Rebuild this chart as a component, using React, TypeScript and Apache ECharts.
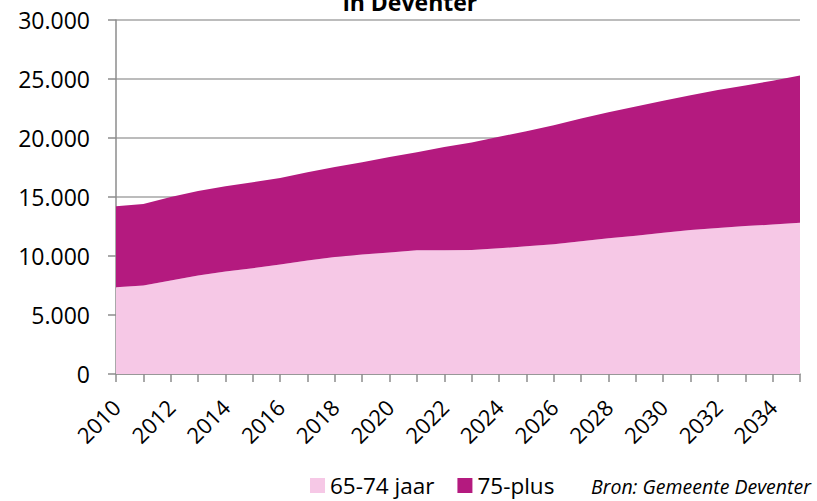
import React, { useEffect, useRef } from "react";
import * as echarts from "echarts";

const years = [
  "2010", "2011", "2012", "2013", "2014", "2015", "2016", "2017", "2018", "2019",
  "2020", "2021", "2022", "2023", "2024", "2025", "2026", "2027", "2028", "2029",
  "2030", "2031", "2032", "2033", "2034", "2035",
];

const age65to74 = [
  7360, 7500, 7930, 8350, 8690, 8970, 9280, 9620, 9910, 10130,
  10290, 10480, 10480, 10500, 10650, 10820, 10990, 11240, 11500, 11720,
  11970, 12200, 12370, 12540, 12660, 12820,
];

const age75plus = [
  6850, 6910, 7070, 7160, 7220, 7280, 7330, 7470, 7640, 7810,
  8110, 8320, 8750, 9120, 9450, 9750, 10100, 10410, 10690, 10950,
  11180, 11430, 11690, 11910, 12190, 12480,
];

const seriesNames = ["65-74 jaar", "75-plus"];
const titleText = "in Deventer";
const sourceText = "Bron: Gemeente Deventer";

const FONT = "'Open Sans', 'Noto Sans', sans-serif";

function fmt(v: number): string {
  return String(v).replace(/\B(?=(\d{3})+(?!\d))/g, ".");
}

export default function App() {
  const ref = useRef<HTMLDivElement>(null);

  useEffect(() => {
    if (!ref.current) return;
    const chart = echarts.init(ref.current, undefined, { renderer: "svg" });
    chart.setOption({
      animation: false,
      backgroundColor: "#ffffff",
      textStyle: { fontFamily: FONT },
      grid: { left: 116, right: 17, top: 20, bottom: 127, containLabel: false },
      legend: {
        data: seriesNames,
        left: 305,
        top: 469,
        icon: "rect",
        itemWidth: 15,
        itemHeight: 15,
        itemGap: 23,
        textStyle: { fontSize: 22.5, color: "#000", fontFamily: FONT, padding: [0, 0, 0, 0] },
      },
      graphic: [
        {
          type: "text",
          x: 410,
          y: 2,
          style: {
            text: titleText,
            font: `bold 23px ${FONT}`,
            fill: "#000",
            textAlign: "center",
            textVerticalAlign: "middle",
          },
        },
        {
          type: "text",
          x: 591,
          y: 486,
          style: {
            text: sourceText,
            font: `italic 19.5px ${FONT}`,
            fill: "#000",
            textAlign: "left",
            textVerticalAlign: "middle",
          },
        },
      ],
      xAxis: {
        type: "category",
        data: years,
        boundaryGap: false,
        axisLine: { lineStyle: { color: "#8c8c8c", width: 1.5 } },
        axisTick: { show: true, interval: 0, length: 8, lineStyle: { color: "#8c8c8c", width: 1.5 } },
        axisLabel: {
          interval: 1,
          rotate: 45,
          margin: 29,
          fontSize: 22,
          color: "#000",
          fontFamily: FONT,
        },
        splitLine: { show: false },
      },
      yAxis: {
        type: "value",
        min: 0,
        max: 30000,
        interval: 5000,
        axisLine: { show: true, lineStyle: { color: "#8c8c8c", width: 1.5 } },
        axisTick: { show: true, length: 8, lineStyle: { color: "#8c8c8c", width: 1.5 } },
        axisLabel: {
          margin: 26,
          fontSize: 23,
          color: "#000",
          fontFamily: FONT,
          formatter: (v: number) => fmt(v),
        },
        splitLine: { show: true, lineStyle: { color: "#a6a6a6", width: 1.5 } },
      },
      series: [
        {
          name: seriesNames[0],
          type: "line",
          stack: "total",
          data: age65to74,
          symbol: "none",
          lineStyle: { width: 0 },
          itemStyle: { color: "#F6C8E6" },
          areaStyle: { color: "#F6C8E6", opacity: 1 },
        },
        {
          name: seriesNames[1],
          type: "line",
          stack: "total",
          data: age75plus,
          symbol: "none",
          lineStyle: { width: 0 },
          itemStyle: { color: "#B41A7F" },
          areaStyle: { color: "#B41A7F", opacity: 1 },
        },
      ],
    });
    return () => chart.dispose();
  }, []);

  return (
    <div
      ref={ref}
      style={{ position: "absolute", left: 0, top: 0, width: 817, height: 501 }}
    />
  );
}
